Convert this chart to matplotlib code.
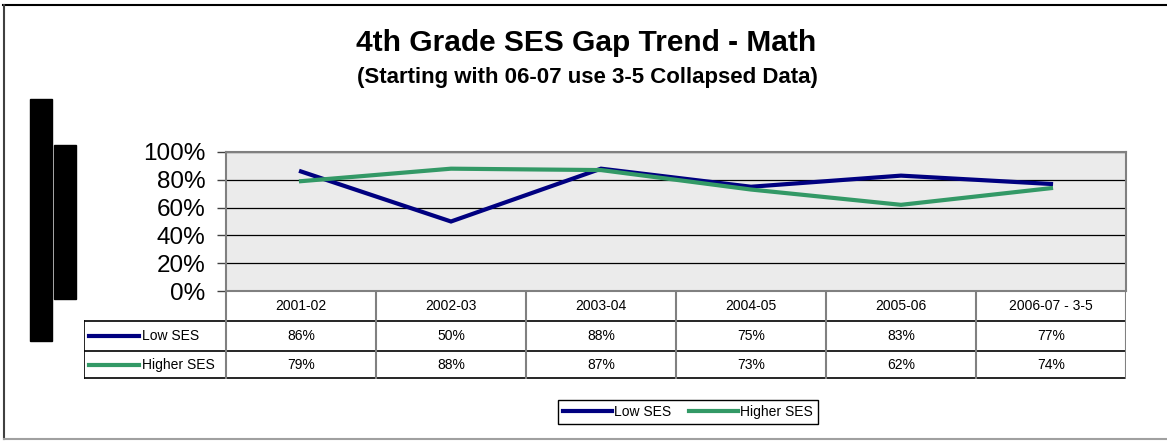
import matplotlib
matplotlib.use("Agg")
from matplotlib import pyplot as plt
from matplotlib.patches import Rectangle
from matplotlib.lines import Line2D

plt.rcParams["font.family"] = ["Liberation Sans", "DejaVu Sans"]

# data
years = ["2001-02", "2002-03", "2003-04", "2004-05", "2005-06", "2006-07 - 3-5"]
low_ses = [86, 50, 88, 75, 83, 77]
higher_ses = [79, 88, 87, 73, 62, 74]
series_names = ["Low SES", "Higher SES"]
series_colors = ["#000080", "#339966"]

W, H = 1167, 441


def rect(x0, y0, x1, y1):
    # pixel box (top-left origin) -> figure fraction rect
    return [x0 / W, (H - y1) / H, (x1 - x0) / W, (y1 - y0) / H]


fig = plt.figure(figsize=(W / 100, H / 100), dpi=100)

# outer frame
fig.add_artist(Line2D([3 / W, 1], [1 - 5 / H, 1 - 5 / H], color="black", lw=1.5))
fig.add_artist(Line2D([4 / W, 4 / W], [1 - 5 / H, 1 - 439 / H], color="#404040", lw=1.5))
fig.add_artist(Line2D([4 / W, 1], [1 - 439 / H, 1 - 439 / H], color="#a0a0a0", lw=1.5))

# redaction blocks
fig.add_artist(Rectangle((30 / W, 1 - 341 / H), 22 / W, 242 / H, color="black"))
fig.add_artist(Rectangle((54 / W, 1 - 299 / H), 22 / W, 154 / H, color="black"))

# titles
fig.text(586 / W, 1 - 43 / H, "4th Grade SES Gap Trend - Math",
         ha="center", va="center", fontsize=21.5, fontweight="bold")
fig.text(587 / W, 1 - 77 / H, "(Starting with 06-07 use 3-5 Collapsed Data)",
         ha="center", va="center", fontsize=16, fontweight="bold")

# chart
ax = fig.add_axes(rect(226, 152, 1126, 291))
x = list(range(len(years)))
lines = []
for vals, name, col in zip([low_ses, higher_ses], series_names, series_colors):
    ln, = ax.plot(x, vals, color=col, lw=3, label=name, solid_joinstyle="miter")
    lines.append(ln)
ax.set_xlim(-0.5, len(years) - 0.5)
ax.set_ylim(0, 100)
ax.set_yticks([0, 20, 40, 60, 80, 100])
ax.set_yticklabels([f"{v}%" for v in [0, 20, 40, 60, 80, 100]], fontsize=17.5)
ax.set_xticks([])
ax.set_facecolor("#ebebeb")
ax.grid(axis="y", color="black", lw=0.9)
ax.set_axisbelow(True)
for s in ax.spines.values():
    s.set_color("#808080")
    s.set_linewidth(1.5)
ax.tick_params(axis="y", length=6.5, width=1, color="#404040", pad=8.5)

# data table under the chart
tab = fig.add_axes(rect(84, 291, 1126, 379))
tab.set_xlim(-0.5 - 142 / 150, len(years) - 0.5)
tab.set_ylim(379, 291)
tab.axis("off")
left = -0.5 - 142 / 150
right = len(years) - 0.5
for yy in [321, 351, 378]:
    tab.plot([left, right], [yy, yy], color="black", lw=1.2)
tab.plot([left, left], [321, 378], color="black", lw=1.2)
tab.plot([right, right], [291, 378], color="#808080", lw=1.5)
for i in range(len(years)):
    tab.plot([i - 0.5, i - 0.5], [291, 378], color="#808080", lw=1.5)
row_y = [306, 336, 364.5]
for i, yr in enumerate(years):
    tab.text(i, row_y[0], yr, ha="center", va="center", fontsize=10)
    tab.text(i, row_y[1], f"{low_ses[i]}%", ha="center", va="center", fontsize=10)
    tab.text(i, row_y[2], f"{higher_ses[i]}%", ha="center", va="center", fontsize=10)
for r, (name, col) in enumerate(zip(series_names, series_colors)):
    yy = row_y[r + 1]
    tab.plot([left + 5 / 150, left + 55 / 150], [yy, yy], color=col, lw=3)
    tab.text(left + 58 / 150, yy, name, ha="left", va="center", fontsize=10)

# legend
fig.legend(handles=lines, loc="center", bbox_to_anchor=(688 / W, 1 - 412 / H),
           ncol=2, fontsize=10, frameon=True, fancybox=False, edgecolor="black",
           framealpha=1, handlelength=3.5, handletextpad=0.15, columnspacing=1.3,
           borderpad=0.35, borderaxespad=0)

fig.savefig("out.png", dpi=100)
